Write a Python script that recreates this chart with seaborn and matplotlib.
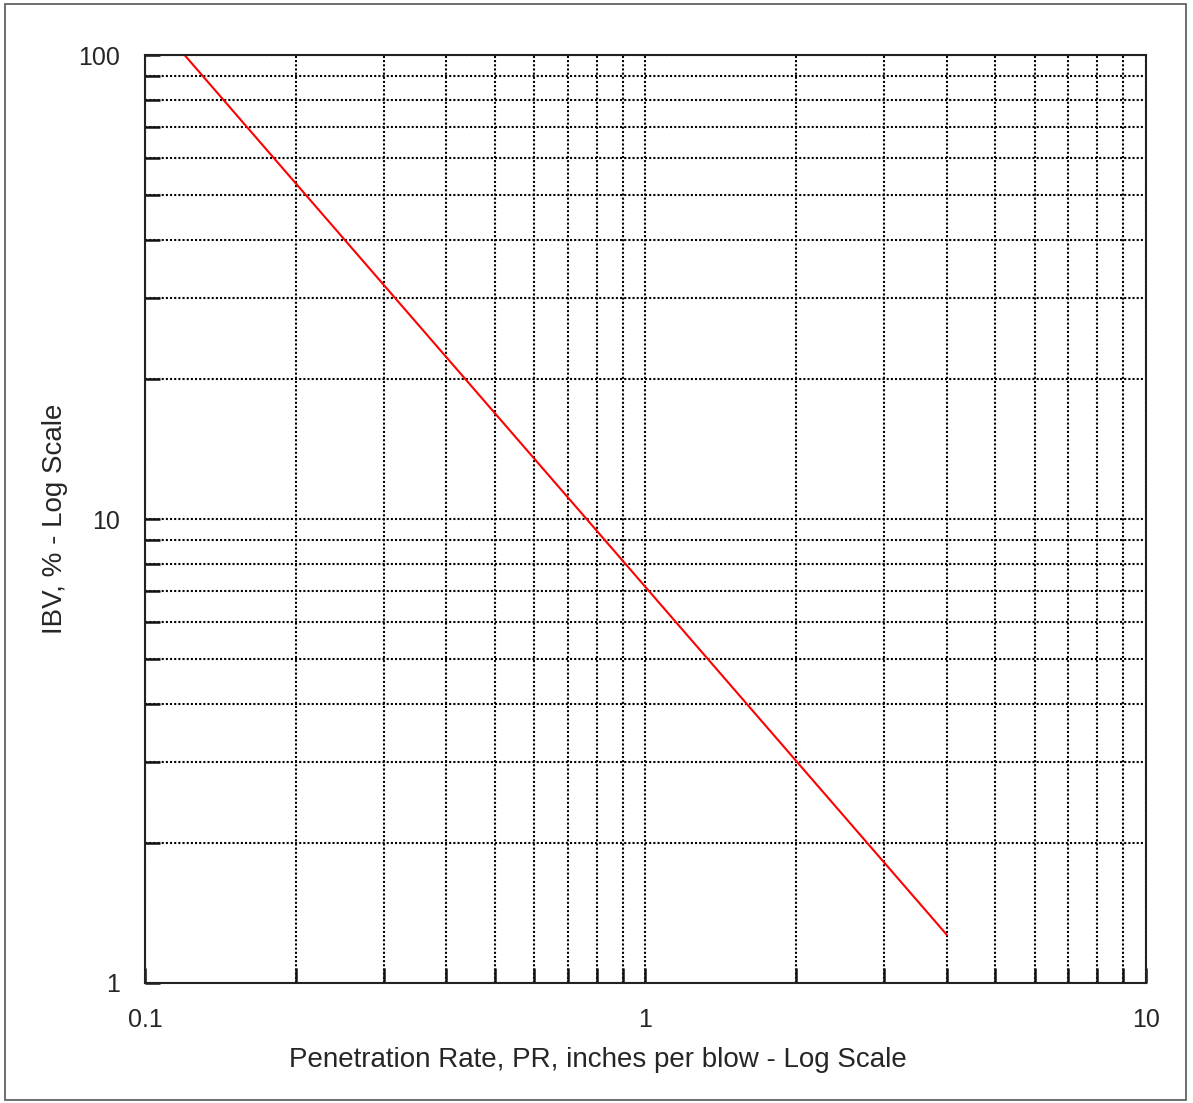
import numpy as np
import pandas as pd
import seaborn as sns
import matplotlib.pyplot as plt
from matplotlib.patches import Rectangle
from matplotlib.ticker import LogLocator, NullFormatter, FixedLocator, FixedFormatter

# line end points
pr = [0.12, 4.0]
ibv = [100.0, 1.27]

x_ticks = [0.1, 1, 10]
x_labels = ['0.1', '1', '10']
y_ticks = [1, 10, 100]
y_labels = ['1', '10', '100']

sns.set_style('ticks')
plt.rcParams['font.family'] = ['Liberation Sans', 'DejaVu Sans']

df = pd.DataFrame({'pr': pr, 'ibv': ibv})

fig = plt.figure(figsize=(11.93, 11.03), dpi=100)
ax = fig.add_axes([0.1215, 0.1088, 0.8391, 0.8413])
sns.lineplot(data=df, x='pr', y='ibv', ax=ax, color='#ff0000', linewidth=1.5)

ax.set_xscale('log')
ax.set_yscale('log')
ax.set_xlim(0.1, 10)
ax.set_ylim(1, 100)

ax.xaxis.set_major_locator(FixedLocator(x_ticks))
ax.xaxis.set_major_formatter(FixedFormatter(x_labels))
ax.yaxis.set_major_locator(FixedLocator(y_ticks))
ax.yaxis.set_major_formatter(FixedFormatter(y_labels))
for axis in (ax.xaxis, ax.yaxis):
    axis.set_minor_locator(LogLocator(base=10, subs=np.arange(2, 10)))
    axis.set_minor_formatter(NullFormatter())

ax.grid(True, which='both', color='black', linestyle=(0, (1, 1)), linewidth=1.5)
ax.tick_params(which='both', direction='in', length=11, width=1.8, color='#111111',
               labelsize=18, pad=18)
for s in ax.spines.values():
    s.set_linewidth(1.5)
    s.set_color('#222222')

ax.set_xlabel('Penetration Rate, PR, inches per blow - Log Scale', fontsize=20, labelpad=11)
ax.xaxis.label.set_x(0.452)  # label sits a bit left of centre in the original
ax.set_ylabel('IBV, % - Log Scale', fontsize=20, labelpad=7)

fig.patches.append(Rectangle((0.004, 0.003), 0.99, 0.993, transform=fig.transFigure,
                             fill=False, edgecolor='#555555', linewidth=1.2))

fig.savefig('out.png', dpi=100)
